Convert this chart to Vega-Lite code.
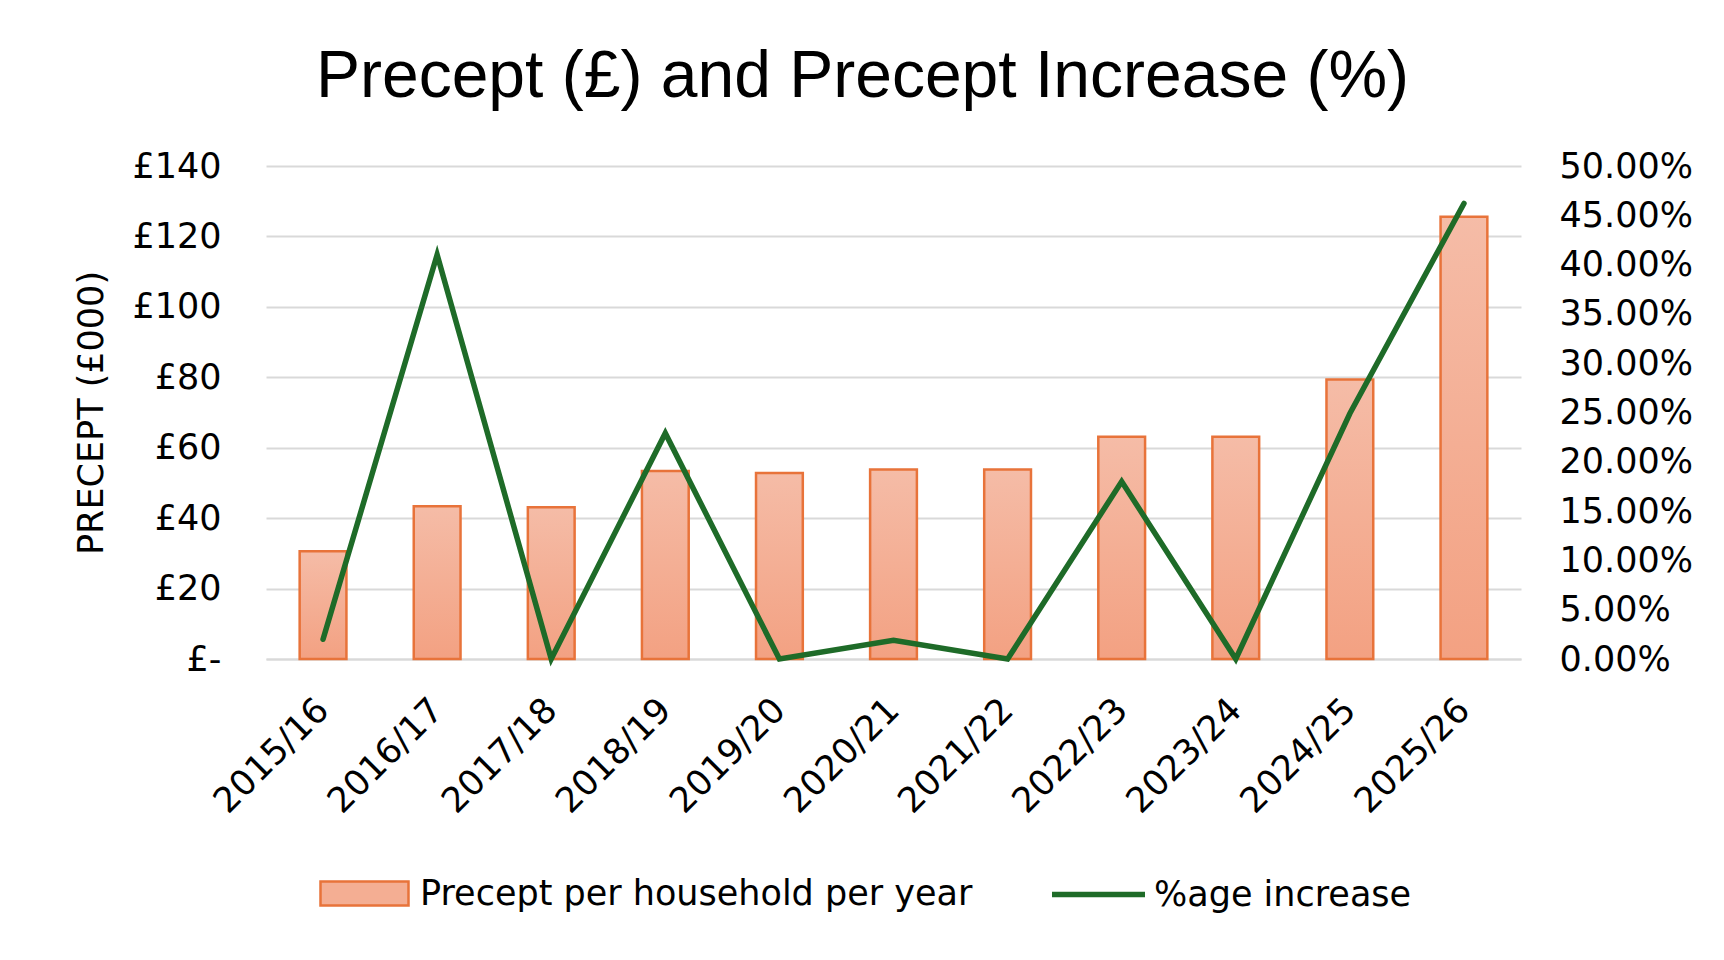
{
  "$schema": "https://vega.github.io/schema/vega-lite/v6.json",
  "width": 1255,
  "height": 493,
  "autosize": {"type": "none"},
  "padding": {"left": 266, "top": 166, "right": 203, "bottom": 301},
  "background": "white",
  "title": {
    "text": "Precept (£) and Precept Increase (%)",
    "font": "Liberation Sans",
    "fontSize": 66,
    "fontWeight": "normal",
    "color": "#000000",
    "anchor": "middle",
    "dx": -31,
    "offset": 38
  },
  "data": {
    "values": [
      {"year": "2015/16", "precept": 30.6, "increase": 0.020},
      {"year": "2016/17", "precept": 43.4, "increase": 0.410},
      {"year": "2017/18", "precept": 43.1, "increase": 0.000},
      {"year": "2018/19", "precept": 53.4, "increase": 0.229},
      {"year": "2019/20", "precept": 52.8, "increase": 0.000},
      {"year": "2020/21", "precept": 53.8, "increase": 0.019},
      {"year": "2021/22", "precept": 53.8, "increase": 0.000},
      {"year": "2022/23", "precept": 63.1, "increase": 0.180},
      {"year": "2023/24", "precept": 63.1, "increase": 0.000},
      {"year": "2024/25", "precept": 79.4, "increase": 0.249},
      {"year": "2025/26", "precept": 125.6, "increase": 0.462}
    ]
  },
  "encoding": {
    "x": {
      "field": "year",
      "type": "ordinal",
      "sort": null,
      "scale": {"paddingInner": 0.59, "paddingOuter": 0.295},
      "axis": {
        "title": null,
        "labelAngle": -45,
        "labelAlign": "right",
        "labelBaseline": "middle",
        "labelPadding": 45,
        "labelFont": "DejaVu Sans",
        "labelFontSize": 35,
        "labelColor": "#000000",
        "ticks": false,
        "domainColor": "#D9D9D9",
        "domainWidth": 2,
        "grid": false
      }
    }
  },
  "layer": [
    {
      "mark": {
        "type": "bar",
        "stroke": "#E8733A",
        "strokeWidth": 2.5,
        "fill": {
          "gradient": "linear",
          "x1": 0, "y1": 0, "x2": 0, "y2": 1,
          "stops": [
            {"offset": 0, "color": "#F5BCA7"},
            {"offset": 1, "color": "#F3A182"}
          ]
        }
      },
      "encoding": {
        "y": {
          "field": "precept",
          "type": "quantitative",
          "scale": {"domain": [0, 140], "nice": false},
          "axis": {
            "title": "PRECEPT (£000)",
            "titleFont": "DejaVu Sans",
            "titleFontSize": 35,
            "titleFontWeight": "normal",
            "titleColor": "#000000",
            "titlePadding": 22,
            "values": [0, 20, 40, 60, 80, 100, 120, 140],
            "labelExpr": "datum.value == 0 ? '£-' : '£' + datum.value",
            "labelFont": "DejaVu Sans",
            "labelFontSize": 35,
            "labelColor": "#000000",
            "labelPadding": 45,
            "ticks": false,
            "domain": false,
            "gridColor": "#D9D9D9",
            "gridWidth": 2
          }
        }
      }
    },
    {
      "transform": [{"filter": "false"}],
      "mark": {
        "type": "bar",
        "stroke": "#E8733A",
        "strokeWidth": 2.5
      },
      "encoding": {
        "y": {
          "field": "precept",
          "type": "quantitative",
          "scale": {"domain": [0, 140], "nice": false},
          "axis": null
        },
        "fill": {
          "datum": "Precept per household per year",
          "type": "nominal",
          "scale": {"range": ["#F4AE93"]},
          "legend": {
            "title": null,
            "orient": "none",
            "legendX": 53,
            "legendY": 682,
            "padding": 0,
            "symbolType": "M-1,-0.27H1V0.27H-1Z",
            "symbolSize": 7744,
            "symbolStrokeColor": "#E8733A",
            "symbolStrokeWidth": 2.5,
            "labelFont": "DejaVu Sans",
            "labelFontSize": 35,
            "labelColor": "#000000",
            "labelLimit": 800,
            "labelOffset": 10
          }
        }
      }
    },
    {
      "mark": {
        "type": "line",
        "strokeWidth": 5.5,
        "strokeJoin": "miter",
        "strokeCap": "round"
      },
      "encoding": {
        "y": {
          "field": "increase",
          "type": "quantitative",
          "scale": {"domain": [0, 0.5], "nice": false},
          "axis": {
            "orient": "right",
            "title": null,
            "values": [0, 0.05, 0.1, 0.15, 0.2, 0.25, 0.3, 0.35, 0.4, 0.45, 0.5],
            "format": ".2%",
            "labelFont": "DejaVu Sans",
            "labelFontSize": 35,
            "labelColor": "#000000",
            "labelPadding": 38,
            "ticks": false,
            "domain": false,
            "grid": false
          }
        },
        "stroke": {
          "datum": "%age increase",
          "type": "nominal",
          "scale": {"range": ["#1E6B28"]},
          "legend": {
            "title": null,
            "orient": "none",
            "legendX": 783,
            "legendY": 679,
            "padding": 0,
            "symbolType": "stroke",
            "symbolSize": 8649,
            "symbolStrokeWidth": 5.5,
            "labelFont": "DejaVu Sans",
            "labelFontSize": 35,
            "labelColor": "#000000",
            "labelLimit": 800,
            "labelOffset": 6
          }
        }
      }
    }
  ],
  "resolve": {"scale": {"y": "independent"}},
  "config": {"view": {"stroke": null}}
}
